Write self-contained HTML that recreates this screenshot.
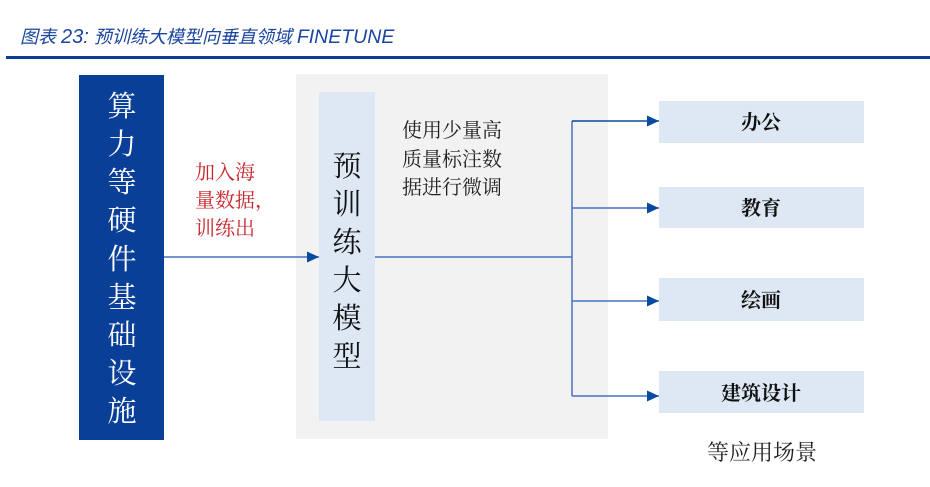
<!DOCTYPE html>
<html><head><meta charset="utf-8"><style>
html,body{margin:0;padding:0;background:#fff;}
body{width:930px;height:487px;overflow:hidden;position:relative;}
svg{position:absolute;left:0;top:0;}
.t{font-family:"Noto Serif CJK SC","Liberation Serif","Noto Sans CJK SC",serif;}
</style></head><body>
<svg width="930" height="487" viewBox="0 0 930 487" xmlns="http://www.w3.org/2000/svg">
<defs>
<marker id="ah" markerWidth="12" markerHeight="11" refX="12" refY="5.5" orient="auto" markerUnits="userSpaceOnUse">
<path d="M0,0 L12,5.5 L0,11 Z" fill="#0b4aa2"/>
</marker>
</defs>
<!-- title -->
<text x="20" y="43" font-family="Liberation Sans,'Noto Sans CJK SC',sans-serif" font-style="italic" font-size="18" fill="#1a45a0">图表 <tspan font-size="20">23:</tspan>  预训练大模型向垂直领域 <tspan font-size="19.5">FINETUNE</tspan></text>
<rect x="6" y="56" width="924" height="3" fill="#0a3f98"/>

<!-- left blue box -->
<rect x="79" y="75" width="85" height="365" fill="#0a3f98"/>
<g class="t" font-size="29" fill="#fff" text-anchor="middle">
<text x="122" y="116">算</text>
<text x="122" y="154">力</text>
<text x="122" y="192">等</text>
<text x="122" y="230">硬</text>
<text x="122" y="269">件</text>
<text x="122" y="307">基</text>
<text x="122" y="345">础</text>
<text x="122" y="383">设</text>
<text x="122" y="421">施</text>
</g>

<!-- red text -->
<g class="t" font-size="20" fill="#c8252c">
<text x="195" y="179">加入海</text>
<text x="195" y="207">量数据，</text>
<text x="195" y="235">训练出</text>
</g>

<!-- gray box -->
<rect x="296" y="74" width="312" height="365" fill="#f2f2f2"/>
<rect x="319" y="92" width="56" height="329" fill="#dde8f4"/>
<g class="t" font-size="29" fill="#111" text-anchor="middle">
<text x="347" y="176">预</text>
<text x="347" y="214">训</text>
<text x="347" y="252">练</text>
<text x="347" y="290">大</text>
<text x="347" y="328">模</text>
<text x="347" y="366">型</text>
</g>
<g class="t" font-size="20" fill="#222">
<text x="402" y="137">使用少量高</text>
<text x="402" y="166">质量标注数</text>
<text x="402" y="194">据进行微调</text>
</g>

<!-- connectors -->
<line x1="164" y1="257" x2="319" y2="257" stroke="#4472c4" stroke-width="1.5" marker-end="url(#ah)"/>
<line x1="375" y1="257" x2="572" y2="257" stroke="#4472c4" stroke-width="1.5"/>
<line x1="572" y1="121" x2="572" y2="396" stroke="#4472c4" stroke-width="1.5"/>
<line x1="572" y1="121" x2="659" y2="121" stroke="#0b4aa2" stroke-width="1.5" marker-end="url(#ah)"/>
<line x1="572" y1="208" x2="659" y2="208" stroke="#4472c4" stroke-width="1.5" marker-end="url(#ah)"/>
<line x1="572" y1="301" x2="659" y2="301" stroke="#4472c4" stroke-width="1.5" marker-end="url(#ah)"/>
<line x1="572" y1="396" x2="659" y2="396" stroke="#4472c4" stroke-width="1.5" marker-end="url(#ah)"/>

<!-- right boxes -->
<rect x="659" y="101" width="205" height="42" fill="#dde8f4"/>
<rect x="659" y="187" width="205" height="41" fill="#dde8f4"/>
<rect x="659" y="278" width="205" height="43" fill="#dde8f4"/>
<rect x="659" y="371" width="205" height="42" fill="#dde8f4"/>
<g class="t" font-size="20" font-weight="bold" fill="#111" text-anchor="middle">
<text x="761" y="129">办公</text>
<text x="761" y="215">教育</text>
<text x="761" y="307">绘画</text>
<text x="761" y="400">建筑设计</text>
</g>
<text class="t" x="762" y="460" font-size="22" fill="#222" text-anchor="middle">等应用场景</text>
</svg>
</body></html>
